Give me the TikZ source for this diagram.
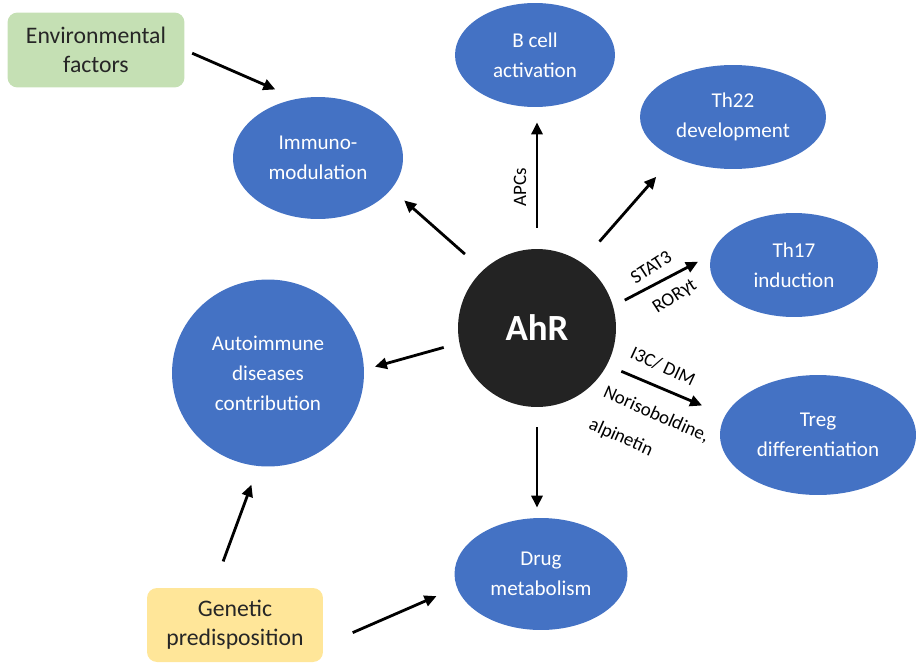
\documentclass[tikz,border=0pt]{standalone}
\usepackage{fontspec}
\setmainfont{Carlito}
\usetikzlibrary{shapes.geometric,arrows.meta}
\definecolor{cellblue}{HTML}{4472C4}
\definecolor{envgreen}{HTML}{C5E0B4}
\definecolor{genyellow}{HTML}{FFE699}
\definecolor{ahrblack}{HTML}{232323}

\begin{document}
\begin{tikzpicture}[x=0.02cm,y=-0.02cm,
  cell/.style 2 args={ellipse,fill=cellblue,text=white,inner sep=0pt,align=center,
    minimum width=#1,minimum height=#2,font=\fontsize{12}{17}\selectfont},
  factor/.style={rectangle,rounded corners=0.2cm,minimum width=3.54cm,minimum height=1.5cm,
    align=center,text=black!85,font=\fontsize{13.5}{16.5}\selectfont},
  link/.style={line width=1.6pt,-{Triangle[length=2.4mm,width=2.2mm]}},
  tag/.style={inner sep=0pt,font=\fontsize{10.8}{13}\selectfont}]
\useasboundingbox (0,0) rectangle (916,663);

\node[factor,fill=envgreen] (env) at (96,50) {Environmental\\factors};
\node[factor,fill=genyellow,minimum width=3.52cm,minimum height=1.48cm] (gen) at (235,625) {Genetic\\predisposition};

\node[circle,fill=ahrblack,text=white,minimum size=3.16cm,inner sep=0pt,
  font=\fontsize{21}{24}\selectfont\bfseries] (ahr) at (537,328) {AhR};

\node[cell={3.4cm}{2.44cm}] (immuno) at (318,158) {Immuno-\\modulation};
\node[cell={3.2cm}{2.08cm}] (bcell) at (535,55) {B cell\\activation};
\node[cell={3.72cm}{2.08cm}] (th22) at (733,117) {Th22\\development};
\node[cell={3.36cm}{2.08cm}] (th17) at (794,265) {Th17\\induction};
\node[cell={3.92cm}{2.4cm}] (treg) at (818,435) {Treg\\differentiation};
\node[cell={3.46cm}{2.24cm}] (drug) at (541,574) {Drug\\metabolism};
\node[cell={3.84cm}{3.74cm}] (auto) at (268,373) {Autoimmune\\diseases\\contribution};

\draw[link,shorten <=0.16cm,shorten >=0.46cm] (env.east) -- (immuno.110);
\draw[link,shorten <=0.48cm,shorten >=0.34cm] (ahr.133) -- (immuno.-23);
\draw[link,shorten <=0.42cm,shorten >=0.30cm] (ahr.north) -- (ahr.north |- bcell.south);
\draw[link,shorten <=0.55cm,shorten >=0.52cm] (ahr.56) -- (th22.214);
\draw[link,shorten <=0.26cm,shorten >=0.30cm] (ahr.16) -- (th17.173);
\draw[link,shorten <=0.31cm,shorten >=0.50cm] (ahr.-28) -- (treg.168);
\draw[link,shorten <=0.40cm,shorten >=0.20cm] (ahr.south) -- (ahr.south |- drug.north);
\draw[link,shorten <=0.32cm,shorten >=0.22cm] (ahr.191) -- (auto.2);
\draw[link,shorten <=0.56cm,shorten >=0.39cm] (gen.120) -- (auto.264);
\draw[link,shorten <=0.64cm,shorten >=0.44cm] (gen.-13) -- (drug.189);

\node[tag,rotate=90] (apcs) at (520,187) {APCs};
\node[tag,rotate=33] (stat) at (651,267) {STAT3};
\node[tag,rotate=33] (ror) at (675,297) {RORγt};
\node[tag,rotate=-25] (indole) at (663,366) {I3C/ DIM};
\node[tag,rotate=-24,align=left] (nori) at (649,431) {Norisoboldine,\\[7pt]alpinetin};
\end{tikzpicture}
\end{document}
